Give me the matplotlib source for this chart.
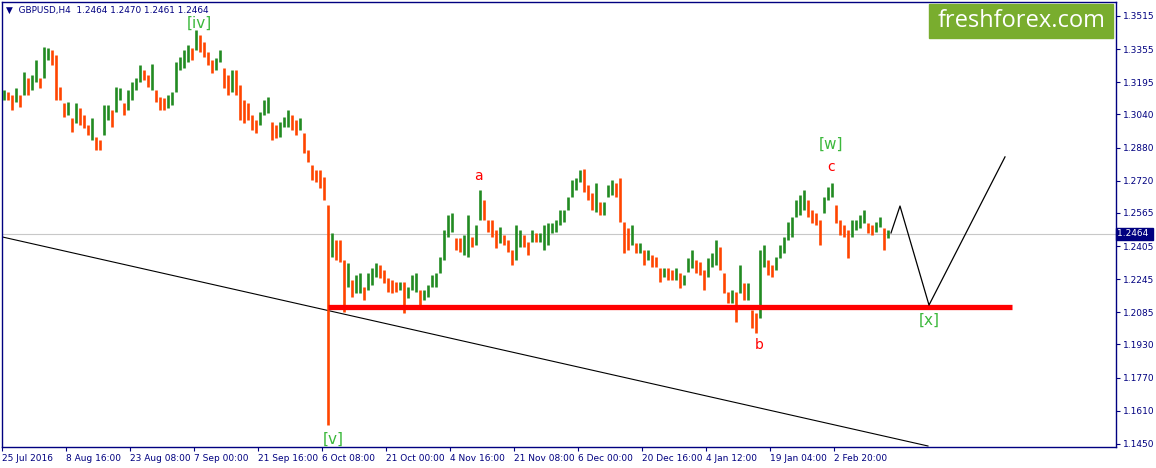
import matplotlib.pyplot as plt
import matplotlib.transforms as mtransforms
import numpy as np

# GBPUSD H4, sampled every 4 bars (high / low of each group)
highs = [1.3158, 1.3148, 1.3134, 1.3167, 1.3134, 1.3245, 1.3216, 1.3230, 1.3303, 1.3216,
         1.3365, 1.3360, 1.3351, 1.3327, 1.3172, 1.3095, 1.3100, 1.3023, 1.3095, 1.3071,
         1.3037, 1.2989, 1.3023, 1.2931, 1.2917, 1.3085, 1.3085, 1.3061, 1.3172, 1.3167,
         1.3095, 1.3158, 1.3196, 1.3216, 1.3278, 1.3254, 1.3230, 1.3283, 1.3158, 1.3124,
         1.3119, 1.3134, 1.3148, 1.3293, 1.3317, 1.3351, 1.3375, 1.3360, 1.3447, 1.3423,
         1.3389, 1.3341, 1.3303, 1.3312, 1.3351, 1.3264, 1.3230, 1.3254, 1.3254, 1.3182,
         1.3110, 1.3095, 1.3037, 1.3013, 1.3052, 1.3110, 1.3124, 1.3003, 1.2989, 1.3003,
         1.3028, 1.3061, 1.3037, 1.3013, 1.3023, 1.2950, 1.2868, 1.2796, 1.2772, 1.2772,
         1.2738, 1.2603, 1.2468, 1.2434, 1.2434, 1.2338, 1.2323, 1.2241, 1.2265, 1.2275,
         1.2207, 1.2275, 1.2299, 1.2323, 1.2313, 1.2289, 1.2251, 1.2241, 1.2231, 1.2231,
         1.2231, 1.2207, 1.2265, 1.2275, 1.2193, 1.2193, 1.2217, 1.2265, 1.2275, 1.2352,
         1.2482, 1.2555, 1.2564, 1.2444, 1.2444, 1.2458, 1.2555, 1.2449, 1.2506, 1.2675,
         1.2627, 1.2531, 1.2531, 1.2482, 1.2497, 1.2458, 1.2434, 1.2386, 1.2506, 1.2482,
         1.2458, 1.2424, 1.2482, 1.2468, 1.2468, 1.2506, 1.2516, 1.2516, 1.2531, 1.2579,
         1.2579, 1.2642, 1.2724, 1.2733, 1.2772, 1.2777, 1.2699, 1.2661, 1.2709, 1.2617,
         1.2617, 1.2699, 1.2724, 1.2709, 1.2733, 1.2521, 1.2492, 1.2506, 1.2420, 1.2420,
         1.2386, 1.2386, 1.2362, 1.2352, 1.2299, 1.2299, 1.2299, 1.2289, 1.2299, 1.2275,
         1.2265, 1.2347, 1.2386, 1.2338, 1.2328, 1.2289, 1.2347, 1.2371, 1.2434, 1.2400,
         1.2275, 1.2183, 1.2193, 1.2183, 1.2313, 1.2227, 1.2227, 1.2096, 1.2082, 1.2386,
         1.2410, 1.2338, 1.2313, 1.2352, 1.2410, 1.2449, 1.2521, 1.2545, 1.2627, 1.2651,
         1.2675, 1.2627, 1.2579, 1.2564, 1.2531, 1.2642, 1.2690, 1.2709, 1.2603, 1.2531,
         1.2506, 1.2482, 1.2531, 1.2531, 1.2555, 1.2579, 1.2516, 1.2506, 1.2521, 1.2545,
         1.2492, 1.2482]
lows = [1.3110, 1.3110, 1.3061, 1.3100, 1.3076, 1.3134, 1.3134, 1.3158, 1.3196, 1.3167,
        1.3216, 1.3303, 1.3278, 1.3110, 1.3110, 1.3028, 1.3037, 1.2955, 1.2999, 1.2989,
        1.2974, 1.2941, 1.2917, 1.2868, 1.2868, 1.2941, 1.3013, 1.2979, 1.3052, 1.3110,
        1.3037, 1.3061, 1.3110, 1.3158, 1.3196, 1.3206, 1.3172, 1.3158, 1.3100, 1.3061,
        1.3061, 1.3071, 1.3085, 1.3148, 1.3254, 1.3264, 1.3293, 1.3303, 1.3351, 1.3341,
        1.3317, 1.3278, 1.3240, 1.3254, 1.3293, 1.3167, 1.3134, 1.3148, 1.3134, 1.3013,
        1.2999, 1.3013, 1.2965, 1.2950, 1.2989, 1.3037, 1.3047, 1.2917, 1.2926, 1.2931,
        1.2979, 1.2979, 1.2965, 1.2941, 1.2965, 1.2854, 1.2810, 1.2724, 1.2714, 1.2685,
        1.2627, 1.1541, 1.2352, 1.2338, 1.2328, 1.2087, 1.2207, 1.2159, 1.2178, 1.2178,
        1.2145, 1.2193, 1.2217, 1.2256, 1.2251, 1.2227, 1.2183, 1.2178, 1.2183, 1.2193,
        1.2082, 1.2154, 1.2193, 1.2183, 1.2111, 1.2145, 1.2159, 1.2207, 1.2207, 1.2275,
        1.2338, 1.2449, 1.2473, 1.2386, 1.2376, 1.2362, 1.2352, 1.2400, 1.2410, 1.2531,
        1.2531, 1.2473, 1.2449, 1.2395, 1.2420, 1.2410, 1.2376, 1.2313, 1.2338, 1.2400,
        1.2400, 1.2362, 1.2424, 1.2424, 1.2424, 1.2386, 1.2410, 1.2468, 1.2473, 1.2506,
        1.2521, 1.2579, 1.2642, 1.2675, 1.2714, 1.2666, 1.2627, 1.2579, 1.2569, 1.2555,
        1.2555, 1.2642, 1.2651, 1.2642, 1.2521, 1.2371, 1.2386, 1.2410, 1.2371, 1.2371,
        1.2313, 1.2338, 1.2304, 1.2304, 1.2231, 1.2256, 1.2241, 1.2241, 1.2241, 1.2202,
        1.2217, 1.2280, 1.2299, 1.2275, 1.2265, 1.2193, 1.2256, 1.2304, 1.2313, 1.2289,
        1.2178, 1.2130, 1.2130, 1.2038, 1.2178, 1.2145, 1.2145, 1.2009, 1.1985, 1.2058,
        1.2304, 1.2265, 1.2256, 1.2289, 1.2347, 1.2371, 1.2434, 1.2449, 1.2545, 1.2555,
        1.2579, 1.2545, 1.2516, 1.2506, 1.2410, 1.2564, 1.2627, 1.2642, 1.2516, 1.2458,
        1.2449, 1.2347, 1.2449, 1.2482, 1.2492, 1.2516, 1.2468, 1.2458, 1.2473, 1.2497,
        1.2386, 1.2444]

last_price = 1.2464
support = 1.2111
trend_x = [0, 926]
trend_y = [1.2449, 1.1440]
proj_x = [889, 898, 927, 1003]
proj_y = [1.2468, 1.2598, 1.2120, 1.2835]

price_ticks = [1.3515, 1.3355, 1.3195, 1.3040, 1.2880, 1.2720, 1.2565,
               1.2405, 1.2245, 1.2085, 1.1930, 1.1770, 1.1610, 1.1450]
date_labels = ['25 Jul 2016', '8 Aug 16:00', '23 Aug 08:00', '7 Sep 00:00',
               '21 Sep 16:00', '6 Oct 08:00', '21 Oct 00:00', '4 Nov 16:00',
               '21 Nov 08:00', '6 Dec 00:00', '20 Dec 16:00', '4 Jan 12:00',
               '19 Jan 04:00', '2 Feb 20:00']

# wave labels: text, bar, price, colour
waves = [('[iv]', 197, 1.3482, '#3cb83c'), ('[v]', 331, 1.1470, '#3cb83c'),
         ('a', 476, 1.2745, 'red'), ('[w]', 829, 1.2895, '#3cb83c'),
         ('c', 829, 1.2785, 'red'), ('b', 757, 1.1925, 'red'),
         ('[x]', 927, 1.2045, '#3cb83c')]

navy = '#000080'
bars = np.arange(len(highs)) * 4 + 2
highs = np.array(highs)
lows = np.array(lows)
mids = (highs + lows) / 2
colors = ['#228b22' if i == 0 or mids[i] >= mids[i - 1] else '#ff4500' for i in range(len(mids))]

fig = plt.figure(figsize=(11.56, 4.68), dpi=100)
ax = fig.add_axes([2 / 1156, 21 / 468, 1114 / 1156, 445 / 468])
ax.set_xlim(0, 1114)
ax.set_ylim(1.14352, 1.35824)

ax.axhline(last_price, color='#c8c8c8', lw=0.8, zorder=1)
ax.vlines(bars, lows, highs, colors=colors, lw=1.9, zorder=3)
ax.plot(trend_x, trend_y, color='black', lw=0.8, zorder=2)
ax.plot([326, 1010], [support, support], color='red', lw=3.8, solid_capstyle='butt', zorder=4)
ax.plot(proj_x, proj_y, color='black', lw=0.9, zorder=4)

for txt, x, y, c in waves:
    ax.text(x, y, txt, color=c, fontsize=11 if txt.startswith('[') else 10,
            ha='center', va='center', zorder=5)

# axes styling like MT4
for s in ax.spines.values():
    s.set_color(navy)
    s.set_linewidth(1)
ax.yaxis.tick_right()
ax.set_yticks(price_ticks)
ax.set_yticklabels(['%.4f' % p for p in price_ticks])
ax.set_xticks(np.arange(len(date_labels)) * 64)
ax.set_xticklabels(date_labels, ha='left')
ax.tick_params(axis='both', colors=navy, labelsize=6.5, length=3, width=0.8, direction='out', pad=2)
for lbl in ax.get_xticklabels() + ax.get_yticklabels():
    lbl.set_color(navy)

# current price box
trans = mtransforms.blended_transform_factory(ax.transAxes, ax.transData)
ax.text(1.001, last_price, '1.2464 ', transform=trans, color='white', fontsize=6.5,
        va='center', ha='left', bbox=dict(boxstyle='square,pad=0.15', fc=navy, ec=navy), zorder=6)

ax.text(4 / 1114, 1 - 8 / 445, '\u25bc  GBPUSD,H4  1.2464 1.2470 1.2461 1.2464',
        transform=ax.transAxes, color=navy, fontsize=6.4, va='center', ha='left')

# logo
fig.patches.append(plt.Rectangle((929 / 1156, 1 - 38 / 468), 184 / 1156, 34 / 468,
                                 transform=fig.transFigure, color='#79ad2e', zorder=10))
fig.text(1022 / 1156, 1 - 21 / 468, 'freshforex.com', color='white', fontsize=17,
         family=['Open Sans', 'DejaVu Sans'], ha='center', va='center', zorder=11)

plt.savefig('out.png', dpi=100)
